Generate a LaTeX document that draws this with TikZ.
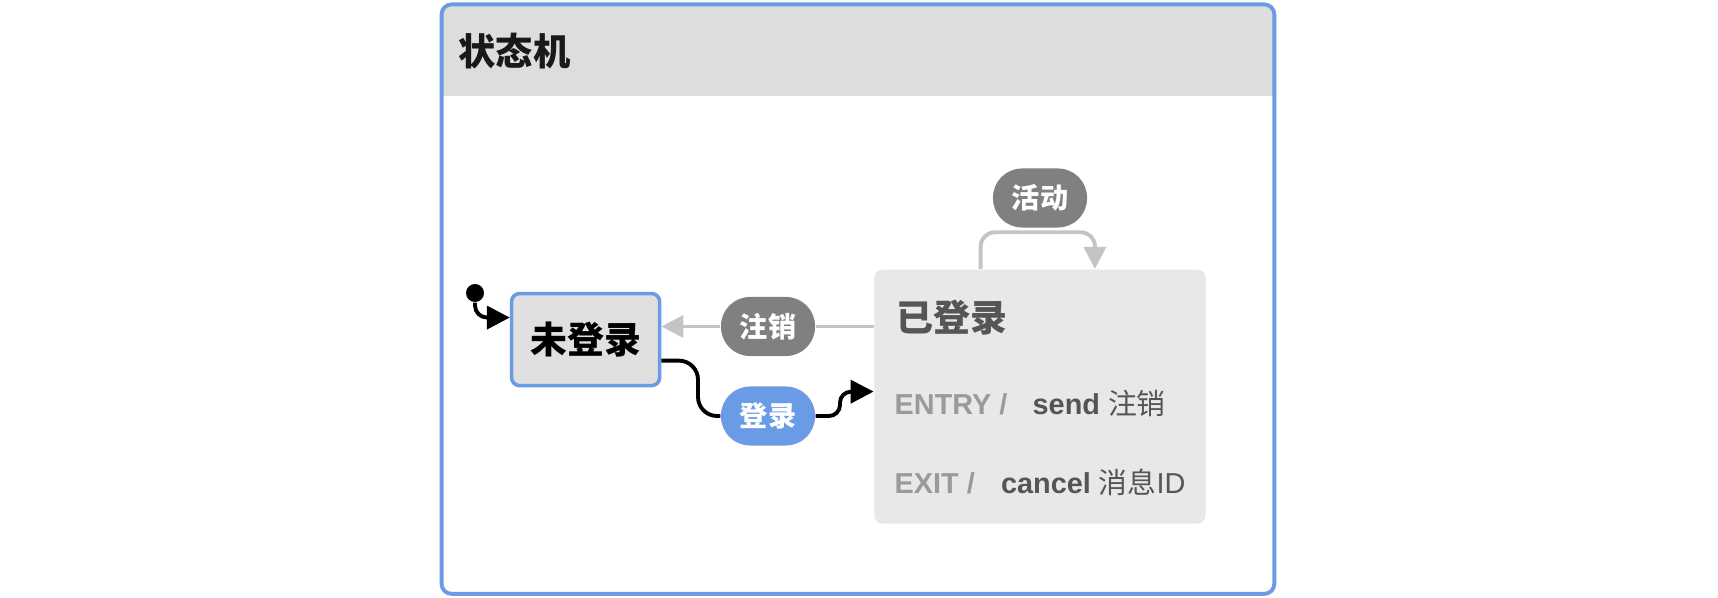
\documentclass[tikz,border=0pt]{standalone}
\usepackage{fontspec}
\setmainfont{Liberation Sans}
\newfontfamily\cjk{Noto Sans CJK SC}
\usetikzlibrary{arrows.meta,positioning}

\definecolor{frameblue}{HTML}{6A9BE3}
\definecolor{headgrey}{HTML}{DDDDDD}
\definecolor{stategrey}{HTML}{E0E0E0}
\definecolor{boxgrey}{HTML}{E8E8E8}
\definecolor{pillgrey}{HTML}{808080}
\definecolor{pillblue}{HTML}{6A9BE6}
\definecolor{linegrey}{HTML}{C4C4C4}
\definecolor{textgrey}{HTML}{555555}
\definecolor{labgrey}{HTML}{9A9A9A}

\begin{document}
\begin{tikzpicture}[x=0.01cm, y=-0.01cm,
    state/.style={draw=frameblue, line width=1pt, fill=stategrey, rounded corners=0.08cm, minimum width=1.48cm, minimum height=0.92cm, font=\fontsize{10.5}{12}\selectfont\cjk\bfseries},
    pill/.style={rounded corners=0.29cm, minimum width=0.94cm, minimum height=0.59cm, inner sep=0pt, text=white, font=\fontsize{8}{10}\selectfont\cjk\bfseries},
    txt/.style={inner sep=0pt, text=textgrey},
    blackarr/.style={line width=1.1pt, -{Triangle[length=0.23cm, width=0.23cm]}},
    greyarr/.style={line width=1.1pt, draw=linegrey, -{Triangle[length=0.22cm, width=0.22cm, fill=linegrey]}}
]
    \fill[white] (0,0) rectangle (1718,598);
    \useasboundingbox (0,0) rectangle (1718,598);
    % 外框与标题栏
    \begin{scope}
        \clip[rounded corners=0.1cm] (441.6,4.4) rectangle (1274.3,593.9);
        \fill[headgrey] (441.6,4.4) rectangle (1274.3,96.4);
    \end{scope}
    \draw[frameblue, line width=1.1pt, rounded corners=0.1cm] (441.6,4.4) rectangle (1274.3,593.9);
    \node[inner sep=0pt, anchor=west, font=\fontsize{10.6}{12}\selectfont\cjk\bfseries, text=black!90] (title) at (458,51.5) {状态机};

    \node[state] (unl) at (585.6,339.6) {未登录};
    \node[fill=boxgrey, rounded corners=0.08cm, minimum width=3.31cm, minimum height=2.54cm] (lin) at (1039.9,396.6) {};
    \node[txt, anchor=west, font=\fontsize{10.5}{12}\selectfont\cjk\bfseries] (linname) at (896,317.5) {已登录};
    \node[txt, anchor=base west, text=labgrey, font=\fontsize{8.2}{10}\selectfont\bfseries] (entry) at (894,414.3) {ENTRY /};
    \node[txt, anchor=base west, font=\fontsize{8.2}{10}\selectfont] (entryact) at (1032,414.3) {\bfseries send {\cjk\mdseries 注销}};
    \node[txt, anchor=base west, text=labgrey, font=\fontsize{8.2}{10}\selectfont\bfseries] (exit) at (894,493.3) {EXIT /};
    \node[txt, anchor=base west, font=\fontsize{8.2}{10}\selectfont] (exitact) at (1000.4,493.3) {{\bfseries cancel} {\cjk 消息}ID};

    \node[pill, fill=pillgrey] (logout) at (768,326.5) {注销};
    \node[pill, fill=pillblue] (login) at (768,416) {登录};
    \node[pill, fill=pillgrey] (act) at (1040,198) {活动};
    \node[circle, fill=black, inner sep=0pt, minimum size=0.18cm] (init) at (475,293) {};

    \draw[blackarr, rounded corners=0.12cm] (init.south) |- ([yshift=0.22cm]unl.west);
    \draw[line width=1.1pt, draw=linegrey] (lin.west |- logout) -- (logout.east);
    \draw[greyarr] (logout.west) -- (unl.east |- logout);
    \draw[line width=1.1pt, rounded corners=0.19cm] ([yshift=-0.21cm]unl.east) -- (698,360.7) -- (698,416) -- (login.west);
    \draw[blackarr, rounded corners=0.11cm] (login.east) -- (840,416) -- (840,391.7) -- ([yshift=0.05cm]lin.west);
    % 自环:从已登录上方绕回
    \draw[greyarr, rounded corners=0.14cm] ([xshift=-0.592cm]lin.north) -- ++(0,-36.5) -| ([xshift=0.55cm]lin.north);
\end{tikzpicture}
\end{document}
